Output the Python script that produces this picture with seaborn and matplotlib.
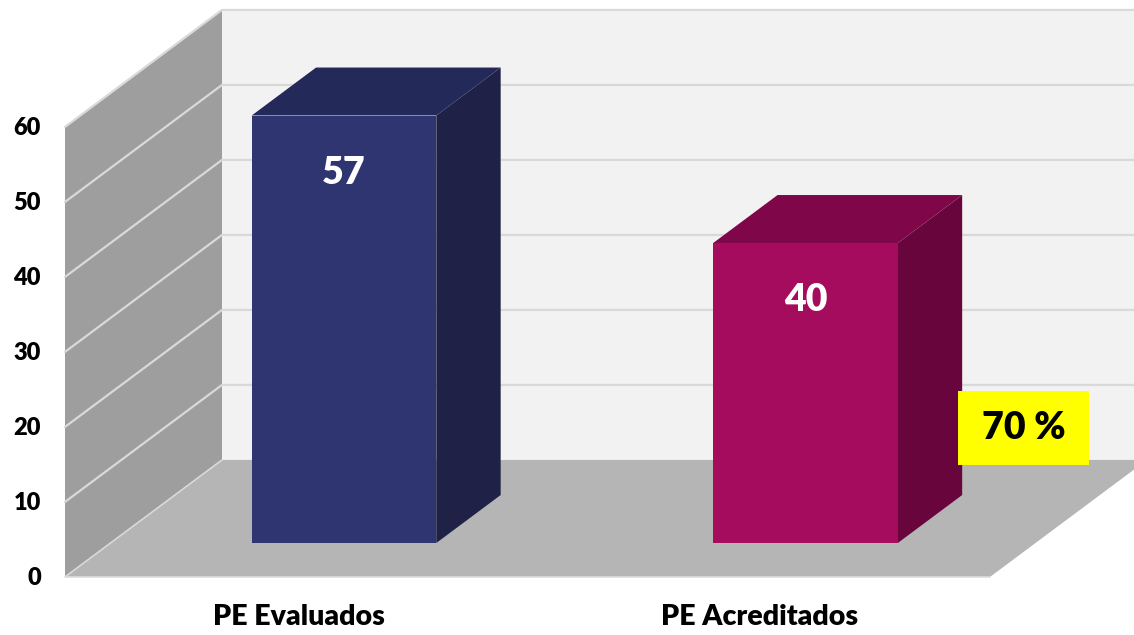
"""Pseudo-3D column chart: PE Evaluados vs PE Acreditados."""
import matplotlib
matplotlib.use("Agg")

import matplotlib.pyplot as plt
from matplotlib.patches import Polygon, Rectangle
import seaborn as sns

# --- data ---
CATEGORIES = ["PE Evaluados", "PE Acreditados"]
VALUES = [57, 40]
Y_TICKS = [0, 10, 20, 30, 40, 50, 60]
BADGE_TEXT = "70 %"

# --- style ---
FRONT_COLORS = ["#2e3571", "#a50c5e"]
TOP_COLORS = ["#232a59", "#80064a"]
SIDE_COLORS = ["#1f2147", "#68053c"]
BACK_WALL = "#f2f2f2"
SIDE_WALL = "#9e9e9e"
FLOOR = "#b5b5b5"
GRID = "#d9d9d9"
BADGE_COLOR = "#ffff00"
WEIGHT = "heavy"

# --- layout (pixel calibration of the fake 3D box) ---
W_PX, H_PX = 1134, 635
PX_PER_X = 461.5          # pixels per category step
PX_PER_Y = 7.5            # pixels per value unit
X0_PX, Y0_PX = 344, 543   # first bar centre / bar bottom
DEPTH_X = 157 / PX_PER_X  # full depth of the box, in data units
DEPTH_Y = 117 / PX_PER_Y
BAR_D0, BAR_D1 = 0.29, 0.70
WALL_X0 = (65 - X0_PX) / PX_PER_X + BAR_D0 * DEPTH_X
FLOOR_X1 = (990 - X0_PX) / PX_PER_X + BAR_D0 * DEPTH_X
BACK_X1 = 2.2
Y_MAX = 60


def proj(x, v, d):
    """Map a (x, value, depth) point onto the 2D axes."""
    return (x + (d - BAR_D0) * DEPTH_X, v + (d - BAR_D0) * DEPTH_Y)


def draw_box(ax):
    back = [proj(WALL_X0, 0, 1), proj(BACK_X1, 0, 1),
            proj(BACK_X1, Y_MAX, 1), proj(WALL_X0, Y_MAX, 1)]
    side = [proj(WALL_X0, 0, 0), proj(WALL_X0, 0, 1),
            proj(WALL_X0, Y_MAX, 1), proj(WALL_X0, Y_MAX, 0)]
    floor = [proj(WALL_X0, 0, 0), proj(FLOOR_X1, 0, 0),
             proj(FLOOR_X1, 0, 1), proj(WALL_X0, 0, 1)]
    ax.add_patch(Polygon(back, closed=True, fc=BACK_WALL, ec="none", zorder=0))
    ax.add_patch(Polygon(side, closed=True, fc=SIDE_WALL, ec="none", zorder=0))
    for v in Y_TICKS[1:]:
        xs, ys = zip(proj(WALL_X0, v, 0), proj(WALL_X0, v, 1), proj(BACK_X1, v, 1))
        ax.plot(xs, ys, color=GRID, lw=1.6, zorder=1)
    ax.add_patch(Polygon(floor, closed=True, fc=FLOOR, ec="none", zorder=2))
    xs, ys = zip(proj(FLOOR_X1, 0, 0), proj(WALL_X0, 0, 0), proj(WALL_X0, 0, 1))
    ax.plot(xs, ys, color=GRID, lw=1.2, zorder=2)


def main() -> None:
    sns.set_theme(style="white")
    plt.rcParams["font.family"] = ["Lato", "DejaVu Sans"]

    fig = plt.figure(figsize=(W_PX / 100, H_PX / 100), dpi=100)
    ax = fig.add_axes([0, 0, 1, 1])

    sns.barplot(x=CATEGORIES, y=VALUES, hue=CATEGORIES, palette=FRONT_COLORS,
                width=0.4, saturation=1, legend=False, ax=ax)
    bars = list(ax.patches)

    draw_box(ax)

    for i, bar in enumerate(bars):
        bar.set_zorder(5)
        bar.set_edgecolor("none")
        x0 = bar.get_x()
        x1 = x0 + bar.get_width()
        h = bar.get_height()
        top = [proj(x0, h, BAR_D0), proj(x1, h, BAR_D0),
               proj(x1, h, BAR_D1), proj(x0, h, BAR_D1)]
        side = [proj(x1, 0, BAR_D0), proj(x1, 0, BAR_D1),
                proj(x1, h, BAR_D1), proj(x1, h, BAR_D0)]
        ax.add_patch(Polygon(side, closed=True, fc=SIDE_COLORS[i], ec="none", zorder=4))
        ax.add_patch(Polygon(top, closed=True, fc=TOP_COLORS[i], ec="none", zorder=4))
        ax.annotate(f"{VALUES[i]}", (x0 + bar.get_width() / 2, h),
                    xytext=(0, -57), textcoords="offset pixels",
                    ha="center", va="center", color="white",
                    fontsize=27, fontweight=WEIGHT, zorder=6)

    # value axis labels on the front edge of the side wall
    for v in Y_TICKS:
        x, y = proj(WALL_X0, v, 0)
        ax.annotate(str(v), (x, y), xytext=(-24, -1), textcoords="offset pixels",
                    ha="right", va="center", fontsize=17, fontweight=WEIGHT,
                    color="black")

    # category labels under the front edge of the floor
    for i, cat in enumerate(CATEGORIES):
        x, y = proj(i, 0, 0)
        ax.annotate(cat, (x, y), xytext=(0, -40), textcoords="offset pixels",
                    ha="center", va="center", fontsize=20.5, fontweight=WEIGHT,
                    color="black")

    # highlighted percentage badge next to the second bar
    bx = (958 - X0_PX) / PX_PER_X
    by = (Y0_PX - 465) / PX_PER_Y
    bw, bh = 131 / PX_PER_X, 74 / PX_PER_Y
    ax.add_patch(Rectangle((bx, by), bw, bh, fc=BADGE_COLOR, ec="none", zorder=7))
    ax.text(bx + bw / 2, by + bh / 2, BADGE_TEXT, ha="center", va="center",
            fontsize=27, fontweight=WEIGHT, color="black", zorder=8)

    ax.set_xlim(-X0_PX / PX_PER_X, (W_PX - X0_PX) / PX_PER_X)
    ax.set_ylim(-(H_PX - Y0_PX) / PX_PER_Y, Y0_PX / PX_PER_Y)
    ax.set_axis_off()

    fig.savefig("out.png", dpi=100, facecolor="white")
    plt.close("all")


if __name__ == "__main__":
    main()
